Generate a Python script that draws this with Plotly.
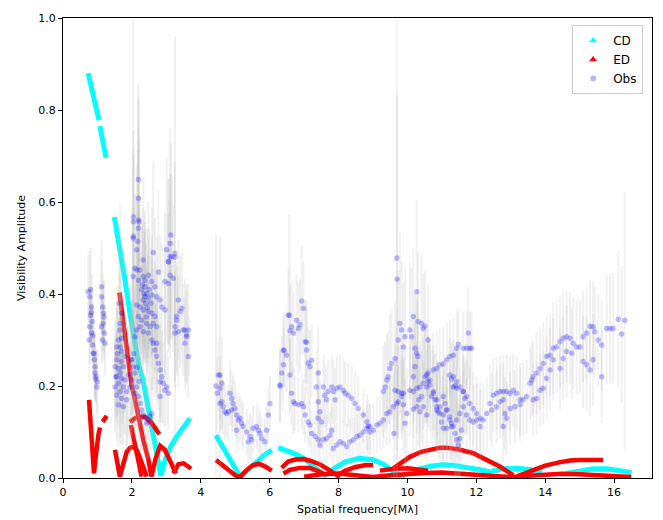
import plotly.graph_objects as go

# ---------------- model curves (None = gap) ----------------
cd_u = [0.73, 0.85, 0.95, 1.045, None,
        1.07, 1.15, 1.25, None,
        1.49, 1.65, 1.8, 1.95, 2.09, 2.2, 2.33, 2.45, 2.55, 2.65, 2.75, 2.84, 2.95, 3.1, 3.3, 3.5, 3.69, None,
        4.44, 4.6, 4.8, 5.0, 5.14, 5.4, 5.62, 5.85, 6.06, None,
        6.25, 6.5, 6.75, 7.0, 7.25, 7.45, 7.6, 7.9, 8.2, 8.6, 9.0, 9.3, 9.55, 9.8, None,
        9.8, 10.1, 10.4, 10.7, 11.0, 11.3, 11.7, 12.1, 12.45, None,
        12.45, 12.8, 13.2, 13.6, 13.9, None,
        14.6, 15.0, 15.4, 15.8, 16.2, 16.5]
cd_v = [0.88, 0.845, 0.81, 0.778, None,
        0.765, 0.735, 0.696, None,
        0.567, 0.50, 0.43, 0.355, 0.285, 0.245, 0.21, 0.165, 0.125, 0.085, 0.045, 0.005, 0.035, 0.065, 0.09, 0.11, 0.13, None,
        0.093, 0.072, 0.047, 0.02, 0.003, 0.02, 0.036, 0.05, 0.061, None,
        0.066, 0.06, 0.052, 0.042, 0.028, 0.014, 0.005, 0.022, 0.035, 0.043, 0.04, 0.03, 0.016, 0.003, None,
        0.003, 0.013, 0.021, 0.026, 0.029, 0.028, 0.024, 0.018, 0.012, None,
        0.015, 0.02, 0.021, 0.018, 0.013, None,
        0.01, 0.016, 0.02, 0.02, 0.016, 0.012]

ed_u = [0.755, 0.8, 0.85, 0.9, 0.94, 0.98, 1.03, 1.075, None,
        1.15, 1.21, 1.27, None,
        1.64, 1.84, 1.99, 2.09, 2.2, 2.33, 2.48, 2.57, None,
        1.51, 1.58, 1.65, 1.75, 1.85, 1.95, 2.04, 2.15, 2.25, 2.35, 2.43, None,
        1.94, 2.1, 2.25, 2.38, 2.55, 2.72, 2.8, None,
        1.97, 2.05, 2.13, 2.21, 2.28, None,
        2.57, 2.68, 2.82, 2.96, 3.08, 3.2, 3.28, None,
        3.2, 3.35, 3.5, 3.65, 3.72, None,
        4.44, 4.6, 4.8, 5.0, 5.14, 5.3, 5.5, 5.67, 5.85, 6.06, None,
        6.35, 6.54, 6.75, 6.98, 7.2, 7.45, 7.65, 7.85, 8.04, None,
        6.4, 6.6, 6.88, 7.17, 7.4, 7.6, None,
        7.95, 8.2, 8.5, 8.8, 9.0, None,
        9.2, 9.6, 10.0, 10.4, 10.6, None,
        9.59, 9.8, 10.07, 10.4, 10.7, 10.94, 11.14, 11.5, 11.91, 12.3, 12.68, 13.07, None,
        13.2, 13.65, 14.0, 14.4, 14.72, 15.0, 15.3, 15.68, None,
        7.0, 7.5, 8.0, 8.5, 9.0, 9.5, 10.0, 10.5, 11.0, 11.5, 12.0, 12.5, 13.0, 13.5, 14.0, 14.5, 15.0, 15.5, 16.0, 16.5]
ed_v = [0.17, 0.125, 0.07, 0.01, 0.04, 0.075, 0.095, 0.11, None,
        0.122, 0.13, 0.135, None,
        0.403, 0.285, 0.202, 0.17, 0.125, 0.083, 0.039, 0.003, None,
        0.061, 0.03, 0.003, 0.03, 0.057, 0.066, 0.068, 0.06, 0.042, 0.02, 0.003, None,
        0.122, 0.13, 0.133, 0.133, 0.122, 0.104, 0.095, None,
        0.115, 0.09, 0.06, 0.03, 0.003, None,
        0.003, 0.04, 0.07, 0.061, 0.042, 0.025, 0.01, None,
        0.01, 0.03, 0.032, 0.025, 0.02, None,
        0.039, 0.03, 0.018, 0.006, 0.002, 0.015, 0.027, 0.031, 0.026, 0.016, None,
        0.022, 0.036, 0.04, 0.041, 0.037, 0.03, 0.021, 0.01, 0.002, None,
        0.01, 0.018, 0.022, 0.022, 0.015, 0.008, None,
        0.005, 0.016, 0.024, 0.028, 0.028, None,
        0.016, 0.02, 0.021, 0.019, 0.016, None,
        0.021, 0.033, 0.046, 0.057, 0.063, 0.066, 0.066, 0.062, 0.054, 0.04, 0.025, 0.006, None,
        0.004, 0.017, 0.027, 0.034, 0.038, 0.039, 0.04, 0.039, None,
        0.003, 0.008, 0.01, 0.006, 0.002, 0.006, 0.009, 0.011, 0.012, 0.01, 0.007, 0.004, 0.002, 0.005, 0.008, 0.009, 0.008, 0.006, 0.004, 0.002]

# ---------------- observations, by region ----------------
obs_u_1 = [0.73, 0.78, 0.83, 0.80, 0.85, 0.78, 0.76, 0.83, 0.86, 0.88, 0.91, 0.93, 0.96, 1.00, 0.98, 0.93, 0.80, 0.82, 0.86, 0.90, 0.95]
obs_v_1 = [0.405, 0.394, 0.372, 0.354, 0.34, 0.329, 0.30, 0.315, 0.289, 0.271, 0.257, 0.242, 0.22, 0.209, 0.198, 0.228, 0.41, 0.36, 0.31, 0.27, 0.215]
obs_e_1 = [0.08, 0.10, 0.07, 0.06, 0.07, 0.08, 0.09, 0.06, 0.07, 0.06, 0.08, 0.07, 0.06, 0.07, 0.08, 0.06, 0.09, 0.05, 0.06, 0.05, 0.05]

obs_u_2 = [1.12, 1.12, 1.15, 1.17, 1.17, 1.12, 1.20, 1.22, 1.14, 1.19]
obs_v_2 = [0.416, 0.394, 0.372, 0.358, 0.336, 0.329, 0.315, 0.293, 0.30, 0.35]
obs_e_2 = [0.10, 0.08, 0.07, 0.07, 0.06, 0.07, 0.06, 0.07, 0.05, 0.08]

obs_u_3 = [1.65, 1.70, 1.66, 1.70, 1.56, 1.51, 1.61, 1.70, 1.75, 1.66, 1.56, 1.70, 1.80, 1.61, 1.51, 1.75, 1.66,
           1.85, 1.56, 1.70, 1.85, 1.95, 1.90, 1.99, 1.80, 1.56, 1.61, 1.66, 1.70, 1.63, 1.75, 1.61, 1.53, 1.58]
obs_v_3 = [0.322, 0.304, 0.285, 0.275, 0.257, 0.242, 0.238, 0.253, 0.242, 0.228, 0.22, 0.217, 0.213, 0.206, 0.198, 0.198, 0.188,
           0.188, 0.18, 0.173, 0.17, 0.198, 0.224, 0.257, 0.264, 0.285, 0.30, 0.336, 0.358, 0.38, 0.155, 0.159, 0.22, 0.27]
obs_e_3 = [0.12, 0.10, 0.10, 0.09, 0.12, 0.10, 0.10, 0.10, 0.11, 0.09, 0.10, 0.10, 0.12, 0.09, 0.10, 0.10, 0.10,
           0.12, 0.10, 0.10, 0.11, 0.15, 0.14, 0.20, 0.12, 0.10, 0.12, 0.26, 0.13, 0.14, 0.10, 0.09, 0.09, 0.10]

obs_u_4 = [2.19, 2.04, 2.19, 2.19, 2.04, 2.17, 2.14, 2.33, 2.62, 2.19,
           2.04, 2.21, 2.04, 2.14, 2.09, 2.23, 2.04, 2.33, 2.48, 2.38,
           2.19, 2.58, 2.67, 2.77, 2.38, 2.28, 2.43, 2.38, 2.33, 2.48,
           2.58, 2.72, 2.82, 2.87, 2.96, 2.14, 2.24, 2.33, 2.48, 2.58,
           2.67, 2.19, 2.28, 2.43, 2.53, 2.62, 2.72, 2.24, 2.14, 2.33,
           2.48, 2.09, 2.58, 2.72, 2.40, 2.45, 2.35, 2.42, 2.30, 2.50, 2.55]
obs_v_4 = [0.608, 0.568, 0.561, 0.543, 0.521, 0.514, 0.496, 0.474, 0.49, 0.649,
           0.557, 0.557, 0.525, 0.452, 0.456, 0.452, 0.438, 0.438, 0.441, 0.43,
           0.43, 0.427, 0.416, 0.448, 0.416, 0.409, 0.401, 0.394, 0.387, 0.391,
           0.398, 0.394, 0.387, 0.372, 0.365, 0.376, 0.372, 0.365, 0.362, 0.358,
           0.351, 0.351, 0.343, 0.336, 0.329, 0.336, 0.329, 0.329, 0.322, 0.318,
           0.315, 0.307, 0.30, 0.293, 0.38, 0.37, 0.40, 0.35, 0.42, 0.41, 0.38]
obs_e_4 = [0.25, 0.43, 0.26, 0.22, 0.20, 0.20, 0.18, 0.18, 0.20, 0.18,
           0.20, 0.18, 0.18, 0.16, 0.16, 0.16, 0.15, 0.15, 0.16, 0.15,
           0.15, 0.16, 0.15, 0.18, 0.14, 0.14, 0.14, 0.14, 0.13, 0.13,
           0.13, 0.13, 0.14, 0.14, 0.14, 0.12, 0.12, 0.12, 0.12, 0.12,
           0.12, 0.12, 0.12, 0.12, 0.12, 0.12, 0.12, 0.12, 0.11, 0.11,
           0.11, 0.11, 0.11, 0.11, 0.13, 0.12, 0.14, 0.12, 0.14, 0.13, 0.12]

obs_u_5 = [3.01, 3.11, 3.13, 3.16, 3.25, 3.06, 3.11, 3.20, 3.06, 2.96,
           3.25, 3.30, 3.40, 3.45, 3.54, 3.59, 3.35, 3.25, 3.35, 3.30,
           3.49, 3.64, 3.59, 3.54, 3.64, 3.25, 3.11, 3.06]
obs_v_5 = [0.496, 0.51, 0.528, 0.481, 0.48, 0.47, 0.441, 0.434, 0.423, 0.427,
           0.329, 0.351, 0.362, 0.369, 0.322, 0.311, 0.318, 0.315, 0.387, 0.343,
           0.322, 0.322, 0.307, 0.293, 0.264, 0.488, 0.481, 0.47]
obs_e_5 = [0.20, 0.25, 0.20, 0.18, 0.48, 0.18, 0.16, 0.16, 0.15, 0.15,
           0.12, 0.12, 0.12, 0.12, 0.11, 0.11, 0.12, 0.12, 0.13, 0.12,
           0.10, 0.10, 0.10, 0.10, 0.09, 0.20, 0.18, 0.18]

obs_u_6 = [2.62, 2.67, 2.72, 2.77, 2.82, 2.87, 2.82, 2.91, 3.01, 2.96, 3.06, 2.82]
obs_v_6 = [0.293, 0.278, 0.264, 0.249, 0.235, 0.22, 0.209, 0.206, 0.198, 0.191, 0.184, 0.177]
obs_e_6 = [0.10, 0.10, 0.10, 0.10, 0.10, 0.10, 0.09, 0.09, 0.08, 0.08, 0.08, 0.08]

obs_u_7 = [1.99, 2.04, 2.09, 1.99, 2.14, 2.09, 2.19, 2.24, 2.28, 2.33, 2.38, 2.48, 2.58, 2.53, 2.43, 2.05, 2.15, 2.20]
obs_v_7 = [0.257, 0.242, 0.228, 0.213, 0.198, 0.184, 0.177, 0.162, 0.148, 0.137, 0.13, 0.122, 0.14, 0.133, 0.119, 0.27, 0.24, 0.21]
obs_e_7 = [0.12, 0.12, 0.12, 0.12, 0.10, 0.10, 0.10, 0.10, 0.09, 0.08, 0.08, 0.08, 0.08, 0.08, 0.08, 0.12, 0.12, 0.10]

obs_u_8 = [4.51, 4.48, 4.56, 4.61, 4.65, 4.70, 4.80, 4.85, 4.90, 4.94,
           4.99, 5.04, 5.09, 5.14, 5.19, 5.04, 5.23, 5.33, 5.43, 5.38,
           5.48, 5.52, 5.62, 5.67, 5.72, 5.77, 5.86, 5.91, 6.01, 5.96,
           4.90, 4.75, 4.56, 4.56, 4.61, 4.44]
obs_v_8 = [0.224, 0.184, 0.195, 0.166, 0.155, 0.144, 0.144, 0.184, 0.173, 0.162,
           0.151, 0.137, 0.126, 0.13, 0.119, 0.104, 0.112, 0.10, 0.09, 0.079,
           0.083, 0.108, 0.112, 0.104, 0.097, 0.086, 0.079, 0.104, 0.162, 0.137,
           0.148, 0.14, 0.162, 0.224, 0.206, 0.20]
obs_e_8 = [0.08, 0.08, 0.07, 0.06, 0.06, 0.06, 0.06, 0.07, 0.06, 0.06,
           0.06, 0.05, 0.05, 0.05, 0.05, 0.05, 0.05, 0.05, 0.05, 0.05,
           0.05, 0.05, 0.05, 0.05, 0.05, 0.05, 0.05, 0.05, 0.06, 0.06,
           0.05, 0.05, 0.06, 0.30, 0.10, 0.33]

obs_u_9 = [6.30, 6.35, 6.40, 6.42, 6.49, 6.54, 6.59, 6.64, 6.69, 6.78,
           6.83, 6.88, 6.93, 6.98, 7.03, 7.07, 7.17, 7.12, 7.22, 6.57,
           6.40, 6.30, 7.07, 7.41]
obs_v_9 = [0.202, 0.228, 0.246, 0.278, 0.267, 0.354, 0.32, 0.329, 0.315, 0.343,
           0.325, 0.333, 0.385, 0.369, 0.296, 0.278, 0.242, 0.25, 0.256, 0.354,
           0.277, 0.20, 0.295, 0.228]
obs_e_9 = [0.08, 0.08, 0.08, 0.08, 0.08, 0.10, 0.10, 0.10, 0.09, 0.10,
           0.10, 0.10, 0.12, 0.10, 0.09, 0.09, 0.08, 0.08, 0.08, 0.22,
           0.08, 0.08, 0.09, 0.10]

obs_u_10 = [6.59, 6.64, 6.69, 6.73, 6.83, 6.93, 6.98, 7.03, 7.12, 7.17, 7.22, 7.32, 7.41, 7.46, 7.56, 7.65, 7.75, 7.80]
obs_v_10 = [0.224, 0.184, 0.166, 0.162, 0.159, 0.162, 0.155, 0.137, 0.122, 0.115, 0.097, 0.09, 0.083, 0.072, 0.083, 0.086, 0.093, 0.104]
obs_e_10 = [0.08, 0.07, 0.07, 0.06, 0.06, 0.06, 0.06, 0.06, 0.05, 0.05, 0.05, 0.05, 0.05, 0.05, 0.05, 0.05, 0.05, 0.05]

obs_u_11 = [7.36, 7.41, 7.46, 7.41, 7.51, 7.56, 7.60, 7.65, 7.70, 7.80,
            7.85, 7.90, 7.95, 8.04, 8.14, 8.19, 8.28, 8.38, 8.48, 8.57,
            8.72, 8.82, 8.86, 8.91, 9.01, 9.11, 9.20, 9.30, 9.40, 9.49,
            9.59, 9.73, 9.83, 9.88]
obs_v_11 = [0.198, 0.166, 0.144, 0.13, 0.122, 0.198, 0.18, 0.17, 0.188, 0.198,
            0.188, 0.17, 0.195, 0.198, 0.19, 0.184, 0.18, 0.173, 0.162, 0.151,
            0.137, 0.122, 0.112, 0.10, 0.104, 0.115, 0.119, 0.126, 0.14, 0.144,
            0.155, 0.166, 0.177, 0.184]
obs_e_11 = [0.08, 0.07, 0.07, 0.06, 0.06, 0.07, 0.07, 0.07, 0.07, 0.07,
            0.07, 0.07, 0.07, 0.07, 0.07, 0.07, 0.07, 0.07, 0.07, 0.07,
            0.06, 0.06, 0.06, 0.06, 0.06, 0.06, 0.06, 0.06, 0.07, 0.07,
            0.07, 0.08, 0.08, 0.08]

obs_u_12 = [7.85, 7.95, 8.04, 8.14, 8.24, 8.33, 8.43, 8.53, 8.62, 8.72, 8.82, 8.91]
obs_v_12 = [0.064, 0.072, 0.079, 0.075, 0.068, 0.079, 0.083, 0.09, 0.093, 0.10, 0.108, 0.112]
obs_e_12 = [0.05, 0.05, 0.05, 0.05, 0.05, 0.05, 0.05, 0.05, 0.05, 0.05, 0.05, 0.05]

obs_u_13 = [9.69, 9.70, 9.78, 9.83, 9.73, 9.93, 9.88, 9.64, 9.54, 9.49,
            9.44, 9.40, 9.35, 9.30, 9.64, 9.73, 9.83, 9.69, 9.88, 9.98,
            9.93, 9.61, 10.07, 10.12, 10.22, 10.27, 10.17, 10.31, 10.41, 10.46,
            10.51, 10.60, 10.27, 10.30, 10.22, 10.17, 10.07, 10.17, 10.27, 10.36,
            10.46, 10.51, 10.56, 10.60, 10.65, 10.75, 10.41, 10.33, 10.27, 10.17,
            10.36, 10.46, 10.56, 10.70, 10.80, 10.85, 10.89, 10.94, 11.04, 10.99,
            11.14, 11.23, 11.28, 11.38, 11.43, 11.48, 11.52, 11.57, 11.04, 11.14]
obs_v_13 = [0.478, 0.432, 0.336, 0.322, 0.30, 0.307, 0.285, 0.26, 0.249, 0.238,
            0.22, 0.213, 0.198, 0.188, 0.191, 0.188, 0.184, 0.162, 0.159, 0.14,
            0.119, 0.097, 0.322, 0.307, 0.282, 0.405, 0.351, 0.34, 0.336, 0.325,
            0.33, 0.30, 0.271, 0.264, 0.242, 0.22, 0.191, 0.188, 0.195, 0.198,
            0.206, 0.22, 0.224, 0.21, 0.202, 0.188, 0.177, 0.17, 0.155, 0.15,
            0.144, 0.155, 0.137, 0.177, 0.17, 0.155, 0.144, 0.14, 0.137, 0.122,
            0.148, 0.126, 0.112, 0.097, 0.083, 0.072, 0.086, 0.104, 0.108, 0.108]
obs_e_13 = [0.52, 0.40, 0.20, 0.15, 0.15, 0.15, 0.14, 0.12, 0.12, 0.12,
            0.10, 0.10, 0.10, 0.10, 0.10, 0.10, 0.10, 0.10, 0.10, 0.10,
            0.10, 0.14, 0.15, 0.15, 0.12, 0.20, 0.15, 0.15, 0.15, 0.12,
            0.12, 0.12, 0.12, 0.12, 0.10, 0.10, 0.10, 0.10, 0.10, 0.10,
            0.10, 0.10, 0.10, 0.10, 0.10, 0.10, 0.10, 0.10, 0.10, 0.10,
            0.10, 0.10, 0.10, 0.10, 0.10, 0.10, 0.10, 0.10, 0.10, 0.10,
            0.10, 0.09, 0.09, 0.09, 0.09, 0.09, 0.09, 0.09, 0.09, 0.09]

obs_u_14 = [10.60, 10.75, 10.85, 10.94, 11.04, 11.14, 11.23, 11.33, 11.43, 11.48, 11.62,
            11.72, 11.81, 11.77, 11.86, 11.23, 11.28, 11.33, 11.38, 11.43, 11.62, 11.67]
obs_v_14 = [0.228, 0.235, 0.238, 0.246, 0.248, 0.257, 0.264, 0.267, 0.282, 0.291, 0.282,
            0.282, 0.282, 0.315, 0.282, 0.224, 0.215, 0.198, 0.20, 0.195, 0.188, 0.173]
obs_e_14 = [0.08, 0.08, 0.08, 0.08, 0.08, 0.08, 0.08, 0.08, 0.08, 0.08, 0.08,
            0.08, 0.08, 0.10, 0.08, 0.08, 0.08, 0.08, 0.08, 0.08, 0.08, 0.08]

obs_u_15 = [10.56, 10.65, 10.75, 10.85, 10.85, 10.94, 11.04, 11.09, 11.14, 11.23, 11.28,
            11.33, 11.43, 11.52, 11.62, 11.72, 11.81, 11.91, 12.01, 12.11, 11.33, 11.43]
obs_v_15 = [0.198, 0.213, 0.184, 0.17, 0.148, 0.155, 0.177, 0.162, 0.148, 0.133, 0.119,
            0.112, 0.126, 0.14, 0.155, 0.137, 0.126, 0.122, 0.126, 0.112, 0.22, 0.209]
obs_e_15 = [0.08, 0.08, 0.08, 0.08, 0.08, 0.08, 0.08, 0.08, 0.08, 0.08, 0.08,
            0.08, 0.08, 0.08, 0.08, 0.08, 0.08, 0.08, 0.08, 0.08, 0.08, 0.08]

obs_u_16 = [11.52, 11.62, 11.72, 11.81, 11.91, 12.01, 12.11, 12.20, 12.30, 12.40, 12.49,
            12.59, 12.69, 12.78, 12.88, 12.98, 13.07, 13.17, 13.27, 13.36, 13.46,
            12.45, 12.59, 12.69, 12.78, 12.83, 12.98, 12.88, 13.12, 13.27, 12.78]
obs_v_16 = [0.198, 0.188, 0.177, 0.162, 0.151, 0.14, 0.13, 0.126, 0.14, 0.162, 0.18,
            0.184, 0.188, 0.188, 0.188, 0.184, 0.191, 0.184, 0.17, 0.17, 0.177,
            0.148, 0.155, 0.166, 0.17, 0.14, 0.151, 0.13, 0.155, 0.16, 0.112]
obs_e_16 = [0.08, 0.08, 0.08, 0.08, 0.08, 0.08, 0.08, 0.08, 0.08, 0.08, 0.08,
            0.08, 0.08, 0.08, 0.08, 0.08, 0.08, 0.08, 0.08, 0.08, 0.08,
            0.08, 0.08, 0.08, 0.08, 0.08, 0.08, 0.08, 0.08, 0.08, 0.08]

obs_u_17 = [13.56, 13.61, 13.65, 13.75, 13.85, 13.94, 14.04, 14.14, 14.23, 14.33,
            14.43, 14.52, 14.62, 14.72, 14.81, 14.91, 15.01, 15.10, 15.20, 15.30,
            15.39, 15.44, 15.54, 15.64, 15.78, 15.88, 15.97, 16.12, 16.22, 16.31,
            13.65, 13.75, 13.85, 13.94, 14.04, 14.14, 14.23, 14.43, 14.52, 14.62,
            14.77, 15.10, 15.20, 15.30, 15.39, 15.64]
obs_v_17 = [0.206, 0.213, 0.22, 0.228, 0.238, 0.249, 0.264, 0.267, 0.282, 0.285,
            0.296, 0.304, 0.307, 0.304, 0.293, 0.285, 0.285, 0.307, 0.315, 0.33,
            0.329, 0.318, 0.30, 0.289, 0.325, 0.325, 0.325, 0.345, 0.313, 0.343,
            0.17, 0.173, 0.191, 0.195, 0.217, 0.235, 0.257, 0.238, 0.26, 0.275,
            0.271, 0.253, 0.246, 0.235, 0.257, 0.22]
obs_e_17 = [0.08, 0.08, 0.08, 0.09, 0.09, 0.09, 0.09, 0.09, 0.10, 0.10,
            0.10, 0.10, 0.10, 0.10, 0.10, 0.10, 0.10, 0.10, 0.10, 0.10,
            0.10, 0.10, 0.10, 0.10, 0.12, 0.12, 0.12, 0.15, 0.15, 0.28,
            0.08, 0.08, 0.08, 0.08, 0.09, 0.09, 0.09, 0.09, 0.09, 0.10,
            0.10, 0.10, 0.10, 0.10, 0.10, 0.10]

x_ticks = [0, 2, 4, 6, 8, 10, 12, 14, 16]
y_ticks = [0.0, 0.2, 0.4, 0.6, 0.8, 1.0]

# ---------------- assemble ----------------
groups = [(obs_u_1, obs_v_1, obs_e_1), (obs_u_2, obs_v_2, obs_e_2), (obs_u_3, obs_v_3, obs_e_3),
          (obs_u_4, obs_v_4, obs_e_4), (obs_u_5, obs_v_5, obs_e_5), (obs_u_6, obs_v_6, obs_e_6),
          (obs_u_7, obs_v_7, obs_e_7), (obs_u_8, obs_v_8, obs_e_8), (obs_u_9, obs_v_9, obs_e_9),
          (obs_u_10, obs_v_10, obs_e_10), (obs_u_11, obs_v_11, obs_e_11), (obs_u_12, obs_v_12, obs_e_12),
          (obs_u_13, obs_v_13, obs_e_13), (obs_u_14, obs_v_14, obs_e_14), (obs_u_15, obs_v_15, obs_e_15),
          (obs_u_16, obs_v_16, obs_e_16), (obs_u_17, obs_v_17, obs_e_17)]
obs_u, obs_v, obs_e = [], [], []
for gu, gv, ge in groups:
    n = min(len(gu), len(gv), len(ge))
    obs_u += gu[:n]
    obs_v += gv[:n]
    obs_e += ge[:n]

FONT = "DejaVu Sans, Liberation Sans, sans-serif"
fig = go.Figure()

fig.add_trace(go.Scatter(x=cd_u, y=cd_v, mode="lines", line=dict(color="#00ffff", width=5),
                         connectgaps=False, showlegend=False, legendgroup="cd", hoverinfo="skip"))
fig.add_trace(go.Scatter(x=ed_u, y=ed_v, mode="lines", line=dict(color="#ff0000", width=4.5),
                         connectgaps=False, showlegend=False, legendgroup="ed", hoverinfo="skip"))
fig.add_trace(go.Scatter(x=obs_u, y=obs_v, mode="markers", name="Obs",
                         marker=dict(color="rgba(0,0,255,0.26)", size=5.5, line=dict(width=0)),
                         error_y=dict(type="data", array=obs_e, visible=True,
                                      color="rgba(185,185,185,0.2)", thickness=2, width=0),
                         showlegend=False, legendgroup="obs"))

# legend entries
fig.add_trace(go.Scatter(x=[None], y=[None], mode="markers", name="CD", legendgroup="cd",
                         marker=dict(symbol="triangle-up", color="#00ffff", size=7)))
fig.add_trace(go.Scatter(x=[None], y=[None], mode="markers", name="ED", legendgroup="ed",
                         marker=dict(symbol="triangle-up", color="#ff0000", size=7)))
fig.add_trace(go.Scatter(x=[None], y=[None], mode="markers", name="Obs", legendgroup="obs",
                         marker=dict(color="rgba(0,0,255,0.28)", size=6)))

axis_common = dict(showline=True, mirror=True, linecolor="black", linewidth=1, automargin=False,
                   ticks="outside", ticklen=4, tickcolor="black", showgrid=False, zeroline=False,
                   tickfont=dict(family=FONT, size=11, color="black"))

# the page body adds an 8px offset, so margins are trimmed to land the axes where the reference has them
fig.update_layout(
    width=663, height=520,
    margin=dict(l=55, r=19, t=10, b=50),
    paper_bgcolor="white", plot_bgcolor="white",
    font=dict(family=FONT, size=11, color="black"),
    xaxis=dict(range=[0, 17.1], tickvals=x_ticks, ticktext=[str(t) for t in x_ticks],
               title=dict(text="Spatial frequency[Mλ]", font=dict(family=FONT, size=11), standoff=7),
               **axis_common),
    yaxis=dict(range=[0, 1.0], tickvals=y_ticks, ticktext=["%.1f" % t for t in y_ticks],
               title=dict(text="Visibility Amplitude", font=dict(family=FONT, size=11), standoff=10),
               **axis_common),
    legend=dict(x=0.985, y=0.985, xanchor="right", yanchor="top", bgcolor="rgba(255,255,255,0.8)",
                bordercolor="#cccccc", borderwidth=1, font=dict(family=FONT, size=12),
                itemwidth=30, tracegroupgap=0),
    showlegend=True,
)

fig.write_html("out.html")
